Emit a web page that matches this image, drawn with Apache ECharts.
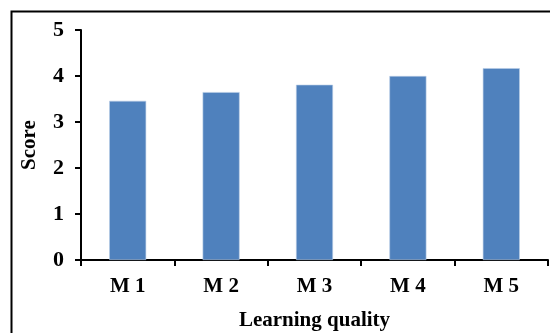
<!DOCTYPE html>
<html>
<head>
<meta charset="utf-8">
<script src="https://cdn.jsdelivr.net/npm/echarts@6/dist/echarts.min.js"></script>
<style>
  html, body { margin: 0; padding: 0; background: #fff; }
  #chart { width: 550px; height: 333px; }
</style>
</head>
<body>
<div id="chart"></div>
<script>
// Mean learning-quality score per module
const categories = ['M 1', 'M 2', 'M 3', 'M 4', 'M 5'];
const scores = [3.46, 3.65, 3.81, 4.0, 4.17];
const yTicks = [0, 1, 2, 3, 4, 5];

const serif = '"Liberation Serif", "DejaVu Serif", serif';
const chart = echarts.init(document.getElementById('chart'), null, { renderer: 'canvas' });

chart.setOption({
  animation: false,
  backgroundColor: '#ffffff',
  graphic: [{
    type: 'rect',
    left: 9, top: 9,
    shape: { width: 600, height: 400 },
    style: { fill: 'none', stroke: '#000', lineWidth: 2 },
    silent: true
  }],
  grid: { left: 81, right: 2, top: 30, bottom: 73, containLabel: false, outerBoundsMode: 'none' },
  xAxis: {
    type: 'category',
    data: categories,
    name: 'Learning quality',
    nameLocation: 'middle',
    nameGap: 50,
    nameTextStyle: { fontFamily: serif, fontWeight: 'bold', fontSize: 21, color: '#000' },
    axisLine: { lineStyle: { color: '#000', width: 2 } },
    axisTick: { show: true, length: 6, lineStyle: { color: '#000', width: 2 } },
    axisLabel: { fontFamily: serif, fontWeight: 'bold', fontSize: 21, color: '#000', margin: 16 }
  },
  yAxis: {
    type: 'value',
    min: yTicks[0],
    max: yTicks[yTicks.length - 1],
    interval: 1,
    name: 'Score',
    nameLocation: 'middle',
    nameGap: 41,
    nameTextStyle: { fontFamily: serif, fontWeight: 'bold', fontSize: 21, color: '#000' },
    axisLine: { show: true, lineStyle: { color: '#000', width: 2 } },
    axisTick: { show: true, length: 6, lineStyle: { color: '#000', width: 2 } },
    axisLabel: { fontFamily: serif, fontWeight: 'bold', fontSize: 22, color: '#000', margin: 17 },
    splitLine: { show: false }
  },
  series: [{
    type: 'bar',
    data: scores,
    barWidth: 37,
    itemStyle: { color: '#4f81bd', borderColor: '#b9cde5', borderWidth: 0.6 }
  }]
});
</script>
</body>
</html>
